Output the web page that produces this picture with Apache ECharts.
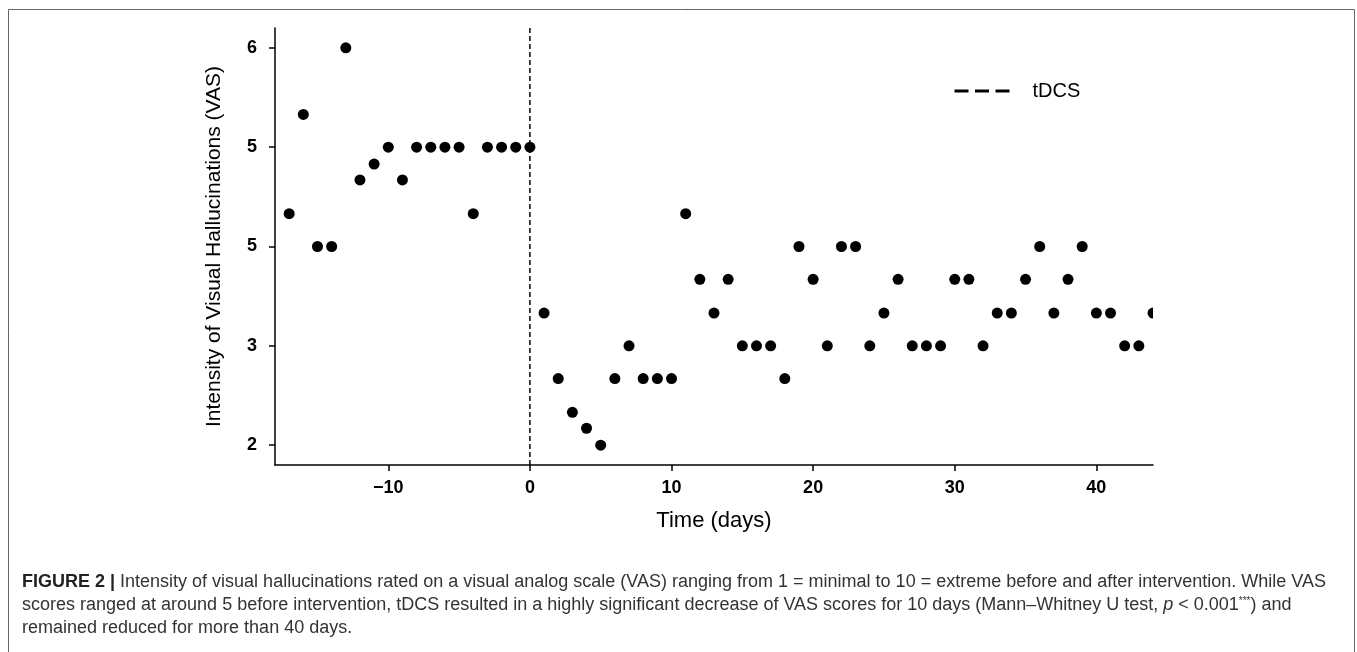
<!DOCTYPE html>
<html>
<head>
<meta charset="utf-8">
<style>
  html, body { margin: 0; padding: 0; background: #fff; }
  #chart { width: 1357px; height: 652px; }
</style>
<script src="https://cdn.jsdelivr.net/npm/echarts@6/dist/echarts.min.js"></script>
</head>
<body>
<div id="chart"></div>
<script>
// ---- data ----
const days = [-17,-16,-15,-14,-13,-12,-11,-10,-9,-8,-7,-6,-5,-4,-3,-2,-1,0,
  1,2,3,4,5,6,7,8,9,10,11,12,13,14,15,16,17,18,19,20,21,22,
  23,24,25,26,27,28,29,30,31,32,33,34,35,36,37,38,39,40,41,42,43,44];
const vas = [4.33,5.33,4,4,6,4.67,4.83,5,4.67,5,5,5,5,4.33,5,5,5,5,
  3.33,2.67,2.33,2.17,2.0,2.67,3.0,2.67,2.67,2.67,4.33,3.67,3.33,3.67,3,3,3,2.67,4,3.67,3,4,
  4,3,3.33,3.67,3,3,3,3.67,3.67,3,3.33,3.33,3.67,4,3.33,3.67,4,3.33,3.33,3,3,3.33];
const tdcsDay = 0;
const xTickValues = [-10, 0, 10, 20, 30, 40];
const yTickValues = [2, 3, 4, 5, 6];
const yTickLabels = ['2', '3', '5', '5', '6'];
const xRange = [-18, 44];
const yRange = [1.8, 6.2];
const seriesName = 'tDCS';
const xTitle = 'Time (days)';
const yTitle = 'Intensity of Visual Hallucinations (VAS)';
const captionLines = [
  '{b|FIGURE 2 |} Intensity of visual hallucinations rated on a visual analog scale (VAS) ranging from 1 = minimal to 10 = extreme before and after intervention. While VAS',
  'scores ranged at around 5 before intervention, tDCS resulted in a highly significant decrease of VAS scores for 10 days (Mann\u2013Whitney U test, {i|p} < 0.001{s|***}) and',
  'remained reduced for more than 40 days.'
];

const points = days.map((d, i) => [d, vas[i]]);

const chart = echarts.init(document.getElementById('chart'), null, { renderer: 'canvas' });
const FONT = '"Liberation Sans", Arial, Helvetica, sans-serif';
const CAP = 18;

const captionRich = {
  b: { fontWeight: 'bold', fontSize: CAP, fontFamily: FONT, fill: '#222' },
  i: { fontStyle: 'italic', fontSize: CAP, fontFamily: FONT, fill: '#333' },
  s: { fontSize: 10, fontFamily: FONT, fill: '#333', verticalAlign: 'top' }
};

const option = {
  animation: false,
  backgroundColor: '#fff',
  textStyle: { fontFamily: FONT },
  grid: { left: 275, right: 204, top: 28, bottom: 187 },
  legend: {
    data: [seriesName],
    left: 948,
    top: 76,
    itemWidth: 55,
    itemHeight: 20,
    selectedMode: false,
    itemStyle: { opacity: 0 },
    lineStyle: { width: 3, type: [14, 6.5], color: '#000' },
    textStyle: { fontSize: 20, color: '#000', fontFamily: FONT, padding: [0, 0, 0, 18] }
  },
  xAxis: {
    type: 'value',
    min: xRange[0],
    max: xRange[1],
    name: xTitle,
    nameLocation: 'middle',
    nameGap: 45,
    nameTextStyle: { fontSize: 22, color: '#000', fontFamily: FONT },
    axisLine: { show: true, onZero: false, lineStyle: { color: '#000', width: 1.5 } },
    axisTick: { show: true, length: 6, customValues: xTickValues, lineStyle: { color: '#000', width: 1.5 } },
    axisLabel: {
      customValues: xTickValues,
      margin: 14,
      fontSize: 18,
      fontWeight: 'bold',
      color: '#000',
      fontFamily: FONT,
      formatter: v => String(v).replace('-', '\u2212')
    },
    splitLine: { show: false }
  },
  yAxis: {
    type: 'value',
    min: yRange[0],
    max: yRange[1],
    name: yTitle,
    nameLocation: 'middle',
    nameGap: 50,
    nameTextStyle: { fontSize: 21, color: '#000', fontFamily: FONT },
    axisLine: { show: true, onZero: false, lineStyle: { color: '#000', width: 1.5 } },
    axisTick: { show: true, length: 6, customValues: yTickValues, lineStyle: { color: '#000', width: 1.5 } },
    axisLabel: {
      customValues: yTickValues,
      margin: 18,
      fontSize: 18,
      fontWeight: 'bold',
      color: '#000',
      fontFamily: FONT,
      formatter: v => {
        const idx = yTickValues.findIndex(t => Math.abs(t - v) < 1e-6);
        return idx >= 0 ? yTickLabels[idx] : '';
      }
    },
    splitLine: { show: false }
  },
  series: [
    {
      name: seriesName,
      type: 'line',
      data: [[tdcsDay, yRange[0]], [tdcsDay, yRange[1]]],
      symbol: 'none',
      itemStyle: { color: '#000' },
      lineStyle: { color: '#000', width: 1.5, type: [5, 3] },
      z: 1
    },
    {
      name: 'VAS',
      type: 'custom',
      clip: true,
      data: points,
      renderItem: function (params, api) {
        const p = api.coord([api.value(0), api.value(1)]);
        return {
          type: 'circle',
          shape: { cx: p[0], cy: p[1], r: 5.5 },
          style: { fill: '#000' }
        };
      },
      z: 2
    }
  ],
  graphic: [
    {
      type: 'rect',
      silent: true,
      shape: { x: 8.5, y: 9.5, width: 1346, height: 700 },
      style: { fill: 'none', stroke: '#666', lineWidth: 1 }
    },
    ...captionLines.map((t, i) => ({
      type: 'text',
      silent: true,
      x: 22,
      y: [582, 605, 628][i],
      style: {
        text: t,
        fontSize: CAP,
        fontFamily: FONT,
        fill: '#333',
        verticalAlign: 'middle',
        rich: captionRich
      }
    }))
  ]
};

chart.setOption(option);
</script>
</body>
</html>
